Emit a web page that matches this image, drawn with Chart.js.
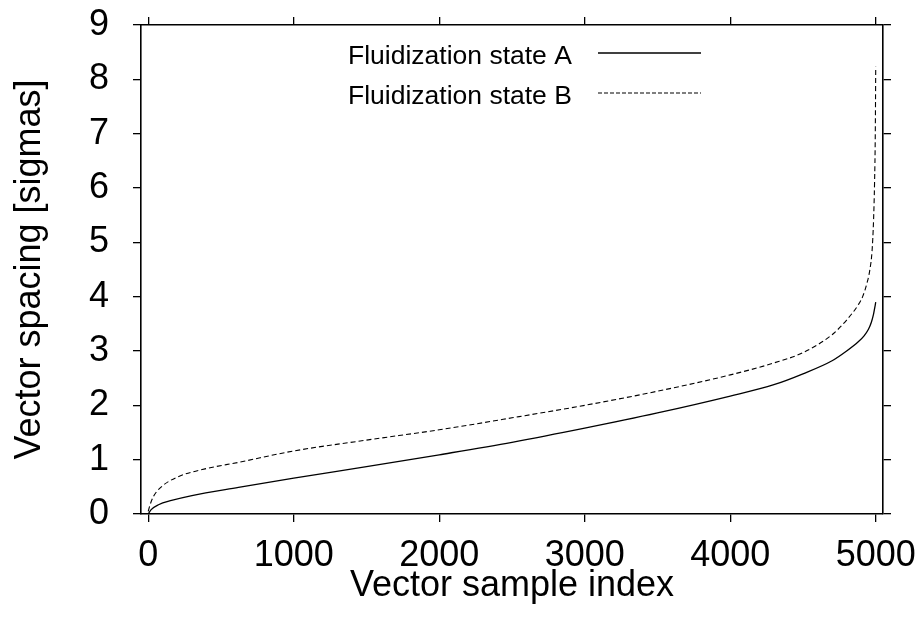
<!DOCTYPE html>
<html>
<head>
<meta charset="utf-8">
<script src="https://cdn.jsdelivr.net/npm/chart.js@4/dist/chart.umd.min.js"></script>
<style>
  html, body { margin: 0; padding: 0; background: #fff; }
  #wrap { width: 924px; height: 621px; }
</style>
</head>
<body>
<div id="wrap"><canvas id="grafico"></canvas></div>
<script>
// valores
const indiceA = [0, 20, 70, 160, 300, 620, 1000, 1500, 2000, 2500, 3000, 3500, 4000, 4300, 4500, 4700, 4800, 4880, 4920, 4950, 4970, 4985, 4995, 5000];
const estadoA = [0, 0.08, 0.17, 0.25, 0.34, 0.49, 0.66, 0.87, 1.09, 1.32, 1.58, 1.86, 2.17, 2.38, 2.58, 2.82, 3.0, 3.17, 3.28, 3.4, 3.53, 3.68, 3.82, 3.9];

const indiceB = [0, 10, 35, 90, 200, 390, 620, 1000, 1500, 2000, 2500, 3000, 3500, 4000, 4300, 4500, 4700, 4800, 4880, 4910, 4940, 4960, 4975, 4985, 4992, 4997, 5000];
const estadoB = [0.05, 0.15, 0.32, 0.5, 0.68, 0.83, 0.95, 1.16, 1.36, 1.55, 1.77, 2.0, 2.26, 2.56, 2.78, 2.97, 3.3, 3.57, 3.85, 4.0, 4.25, 4.5, 4.85, 5.4, 6.1, 7.0, 8.23];

const ticksX = [0, 1000, 2000, 3000, 4000, 5000];
const ticksY = [0, 1, 2, 3, 4, 5, 6, 7, 8, 9];
const etiquetas = ['Fluidization state A', 'Fluidization state B'];

const fuente = 'Liberation Sans, Arial, Helvetica, sans-serif';

function puntos(xs, ys) {
    return xs.map((x, i) => ({ x: x, y: ys[i] }));
}

function fijarTicks(valores) {
    return function(scale) {
        scale.ticks = valores.map(v => ({ value: v }));
    };
}

function sinPadding(scale) {
    scale.paddingTop = 0;
    scale.paddingBottom = 0;
    scale.paddingLeft = 0;
    scale.paddingRight = 0;
}
function fijarAncho(w) {
    return function(scale) { scale.width = w; sinPadding(scale); };
}
function fijarAlto(h) {
    return function(scale) { scale.height = h; sinPadding(scale); };
}

const rejilla = {
    drawOnChartArea: false,
    drawTicks: true,
    tickLength: 8,
    color: '#000',
    lineWidth: 1.3
};
const borde = { display: true, color: '#000', width: 1.6 };

// leyenda dibujada dentro del area
const leyendaInterna = {
    id: 'leyendaInterna',
    afterDraw(chart) {
        const ctx = chart.ctx;
        const filas = [55, 95];
        ctx.save();
        ctx.font = '26.5px ' + fuente;
        ctx.fillStyle = '#000';
        ctx.textBaseline = 'middle';
        ctx.textAlign = 'left';
        chart.data.datasets.forEach((ds, i) => {
            const y = filas[i];
            ctx.fillText(ds.label, 348, y + 2);
            ctx.beginPath();
            ctx.setLineDash(ds.borderDash ? [4, 2] : []);
            ctx.lineWidth = ds.borderWidth;
            ctx.strokeStyle = ds.borderColor;
            ctx.moveTo(598, y - 2);
            ctx.lineTo(701, y - 2);
            ctx.stroke();
        });
        ctx.restore();
    }
};

const ctx = document.getElementById('grafico').getContext('2d');
new Chart(ctx, {
    type: 'scatter',
    data: {
        datasets: [
            {
                label: etiquetas[0],
                data: puntos(indiceA, estadoA),
                showLine: true,
                borderColor: '#000',
                borderWidth: 1.3,
                pointRadius: 0,
                cubicInterpolationMode: 'monotone'
            },
            {
                label: etiquetas[1],
                data: puntos(indiceB, estadoB),
                showLine: true,
                borderColor: '#000',
                borderWidth: 1.1,
                borderDash: [5, 3],
                pointRadius: 0,
                cubicInterpolationMode: 'monotone'
            }
        ]
    },
    options: {
        responsive: true,
        maintainAspectRatio: false,
        animation: false,
        layout: { padding: 0 },
        plugins: {
            legend: { display: false },
            tooltip: { enabled: false }
        },
        scales: {
            x: {
                type: 'linear',
                position: 'bottom',
                min: -50,
                max: 5050,
                afterBuildTicks: fijarTicks(ticksX),
                afterFit: fijarAlto(107),
                grid: rejilla,
                border: borde,
                ticks: {
                    color: '#000',
                    font: { family: fuente, size: 36 },
                    padding: 12,
                    maxRotation: 0,
                    autoSkip: false,
                    callback: v => String(v)
                },
                title: {
                    display: true,
                    text: 'Vector sample index',
                    color: '#000',
                    font: { family: fuente, size: 36 },
                    padding: { top: 0, bottom: 13 }
                }
            },
            x2: {
                type: 'linear',
                position: 'top',
                min: -50,
                max: 5050,
                afterBuildTicks: fijarTicks(ticksX),
                afterFit: fijarAlto(25),
                grid: rejilla,
                border: borde,
                ticks: { display: false }
            },
            y: {
                type: 'linear',
                position: 'left',
                min: 0,
                max: 9,
                afterBuildTicks: fijarTicks(ticksY),
                afterFit: fijarAncho(141),
                grid: rejilla,
                border: borde,
                ticks: {
                    color: '#000',
                    font: { family: fuente, size: 36 },
                    padding: 24,
                    callback: v => String(v)
                },
                title: {
                    display: true,
                    text: 'Vector spacing [sigmas]',
                    color: '#000',
                    font: { family: fuente, size: 36 },
                    padding: { top: 8, bottom: 0 }
                }
            },
            y2: {
                type: 'linear',
                position: 'right',
                min: 0,
                max: 9,
                afterBuildTicks: fijarTicks(ticksY),
                afterFit: fijarAncho(41),
                grid: rejilla,
                border: borde,
                ticks: { display: false }
            }
        }
    },
    plugins: [leyendaInterna]
});
</script>
</body>
</html>
